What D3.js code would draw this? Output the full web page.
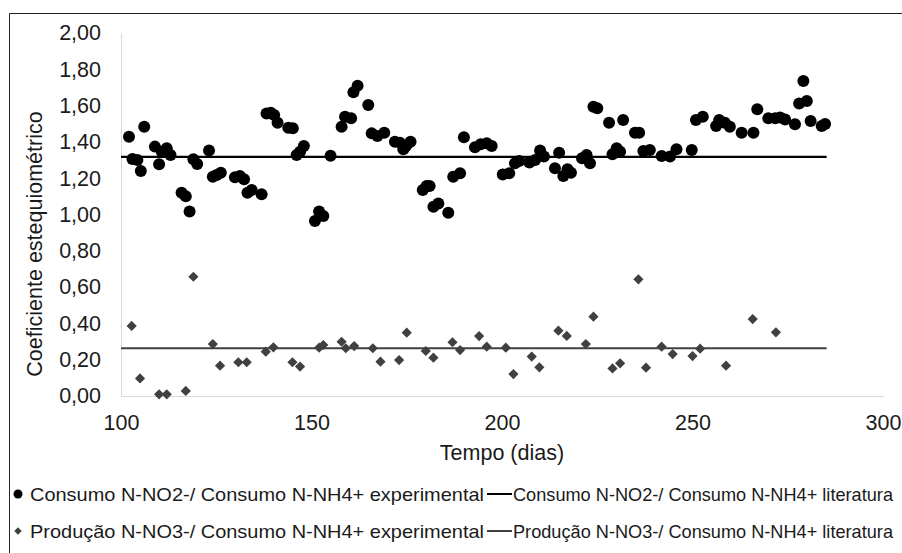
<!DOCTYPE html>
<html><head><meta charset="utf-8">
<script src="https://cdn.jsdelivr.net/npm/d3@7"></script>
<style>body{margin:0;background:#fff}svg{display:block}text{font-family:"Liberation Sans",Arial,sans-serif}</style>
</head><body><svg id="c" width="902" height="553"></svg>
<script>
const nitriteDays = [102.1,103,104.3,105.2,106.1,108.9,110,110.7,112,113,115.9,117,118,119,120,123.1,124.1,125.1,126.2,129.9,131.2,132.3,133.2,134.3,136.9,138.2,139.3,140.2,141.1,143.9,145.1,146.1,147,148,150.9,152,153.1,155,157.9,158.8,160.4,161,162.1,164.9,165.8,167.3,169.1,171.9,173.2,174.1,174.8,176,179.2,180.2,181,182,183.3,185.9,187.2,189,190,192.9,194.4,196,197.3,200.2,201.9,203.4,204.5,207.2,208.7,210,211,213.9,215,216.1,217.2,218.1,221,222.2,223.1,224,225,228.1,229,230.1,231,231.8,234.9,236,237.1,238.8,241.9,244.1,245.8,249.8,250.9,252.7,256.2,257,258.5,259.8,262.9,266,267,269.9,271.7,273,274.3,276.9,278,279.1,280,281,283.9,284.8];
const nitriteValues = [1.429,1.306,1.30,1.24,1.484,1.374,1.277,1.346,1.365,1.328,1.12,1.10,1.016,1.304,1.278,1.352,1.208,1.218,1.23,1.205,1.212,1.194,1.12,1.135,1.111,1.557,1.561,1.548,1.506,1.478,1.475,1.328,1.346,1.377,0.964,1.016,0.992,1.324,1.484,1.539,1.53,1.673,1.71,1.603,1.447,1.433,1.451,1.401,1.396,1.359,1.377,1.401,1.135,1.157,1.157,1.043,1.061,1.01,1.208,1.227,1.425,1.37,1.387,1.392,1.377,1.221,1.227,1.282,1.295,1.286,1.30,1.352,1.319,1.255,1.34,1.212,1.249,1.23,1.31,1.328,1.282,1.594,1.585,1.506,1.332,1.365,1.346,1.521,1.451,1.451,1.35,1.355,1.322,1.319,1.359,1.355,1.521,1.539,1.488,1.521,1.506,1.484,1.451,1.451,1.58,1.53,1.53,1.535,1.524,1.497,1.612,1.736,1.625,1.515,1.488,1.499];
const nitrateDays = [102.8,105,110,112,117,119,124.1,126,130.8,133,138,140,145,147,152,153.1,157.9,159,161.2,166.1,168.1,173,175,180,182,187,189,194,196,201,203,207.8,209.8,214.8,217,222,224,229,231,235.8,237.8,241.9,244.8,250,252,258.8,265.8,271.9];
const nitrateValues = [0.386,0.097,0.009,0.009,0.028,0.657,0.286,0.167,0.186,0.186,0.244,0.268,0.186,0.162,0.266,0.281,0.299,0.263,0.275,0.263,0.189,0.198,0.349,0.248,0.211,0.296,0.253,0.33,0.272,0.266,0.121,0.217,0.158,0.36,0.331,0.286,0.437,0.152,0.18,0.643,0.156,0.272,0.231,0.22,0.261,0.167,0.424,0.351];
const literatureRange = [100, 285.2];
const nitriteLiterature = 1.318;
const nitrateLiterature = 0.263;
const xTicks = [100,150,200,250,300];
const yTicks = [0,0.2,0.4,0.6,0.8,1.0,1.2,1.4,1.6,1.8,2.0];
const legendLabels = ["Consumo N-NO2-/ Consumo N-NH4+ experimental","Consumo N-NO2-/ Consumo N-NH4+ literatura","Produção N-NO3-/ Consumo N-NH4+ experimental","Produção N-NO3-/ Consumo N-NH4+ literatura"];

const svg = d3.select("#c");
svg.append("path").attr("d","M9.5,560V13.5H905").attr("fill","none").attr("stroke","#222").attr("stroke-width",1);

const x = d3.scaleLinear().domain([100,300]).range([121,883]);
const y = d3.scaleLinear().domain([0,2]).range([396,33]);
const fmt = d => d.toFixed(2).replace(".",",");

const gy = svg.append("g").attr("transform","translate(121,0)")
  .call(d3.axisLeft(y).tickValues(yTicks).tickFormat(fmt).tickSize(0).tickPadding(20));
gy.select(".domain").attr("stroke","#d9d9d9");
gy.selectAll("text").attr("font-size",21.5).attr("fill","#1a1a1a").attr("font-family","Liberation Sans, Arial, sans-serif");

const gx = svg.append("g").attr("transform","translate(0,396)")
  .call(d3.axisBottom(x).tickValues(xTicks).tickFormat(d3.format("d")).tickSize(0).tickPadding(19));
gx.select(".domain").attr("stroke","#d9d9d9");
gx.selectAll("text").attr("font-size",21.5).attr("fill","#1a1a1a").attr("font-family","Liberation Sans, Arial, sans-serif");

svg.append("text").attr("x",502).attr("y",460).attr("text-anchor","middle").attr("font-size",21.5).attr("fill","#1a1a1a").text("Tempo (dias)");
svg.append("text").attr("transform","translate(42,244) rotate(-90)").attr("text-anchor","middle").attr("font-size",21.5).attr("fill","#1a1a1a").text("Coeficiente estequiométrico");

// literature lines
svg.append("line").attr("x1",x(literatureRange[0])).attr("x2",x(literatureRange[1])).attr("y1",y(nitriteLiterature)).attr("y2",y(nitriteLiterature)).attr("stroke","#000").attr("stroke-width",2.2);
svg.append("line").attr("x1",x(literatureRange[0])).attr("x2",x(literatureRange[1])).attr("y1",y(nitrateLiterature)).attr("y2",y(nitrateLiterature)).attr("stroke","#404040").attr("stroke-width",2.2);

const diamond = d3.symbol().type(d3.symbolSquare).size(52);
svg.append("g").selectAll("path").data(nitrateDays.map((d,i)=>[d,nitrateValues[i]])).join("path")
  .attr("d",diamond).attr("transform",d=>`translate(${x(d[0])},${y(d[1])}) rotate(45)`).attr("fill","#404040");

svg.append("g").selectAll("circle").data(nitriteDays.map((d,i)=>[d,nitriteValues[i]])).join("circle")
  .attr("cx",d=>x(d[0])).attr("cy",d=>y(d[1])).attr("r",6).attr("fill","#000");

// legend
const lg = svg.append("g").attr("font-size",18.5).attr("fill","#1a1a1a");
const rows = [{cy:494, mark:"circle", col:"#000"},{cy:531, mark:"diamond", col:"#404040"}];
rows.forEach((r,i)=>{
  if(r.mark==="circle") lg.append("circle").attr("cx",18).attr("cy",r.cy).attr("r",4.5).attr("fill",r.col);
  else lg.append("path").attr("d",d3.symbol().type(d3.symbolSquare).size(28)).attr("transform",`translate(18,${r.cy}) rotate(45)`).attr("fill",r.col);
  lg.append("text").attr("x",30).attr("y",r.cy+7).attr("textLength",454).attr("lengthAdjust","spacingAndGlyphs").text(legendLabels[i*2]);
  lg.append("line").attr("x1",487).attr("x2",512).attr("y1",r.cy).attr("y2",r.cy).attr("stroke",r.col).attr("stroke-width",2);
  lg.append("text").attr("x",513).attr("y",r.cy+7).attr("textLength",380).attr("lengthAdjust","spacingAndGlyphs").text(legendLabels[i*2+1]);
});
</script></body></html>
